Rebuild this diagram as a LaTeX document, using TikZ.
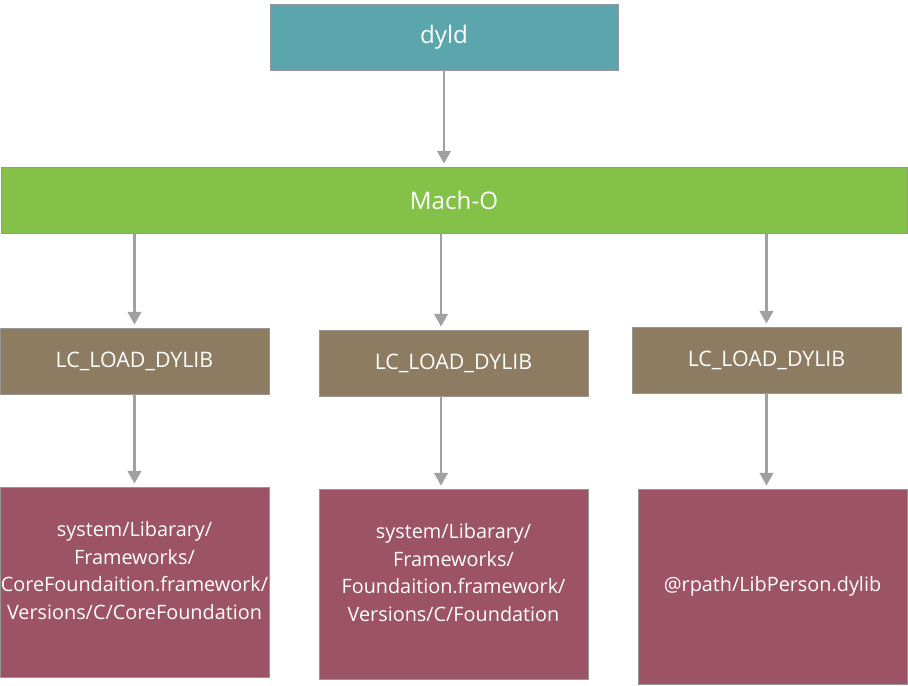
\documentclass[tikz,border=0pt]{standalone}
\usepackage{fontspec}
\setmainfont{Open Sans}
\usetikzlibrary{arrows.meta,positioning,calc}
\definecolor{dyldteal}{RGB}{91,166,172}
\definecolor{machogreen}{RGB}{131,193,72}
\definecolor{cmdbrown}{RGB}{141,124,97}
\definecolor{libred}{RGB}{155,83,101}
\definecolor{edgegray}{RGB}{150,150,150}
\definecolor{arrowgray}{RGB}{160,160,160}

\begin{document}
\begin{tikzpicture}[
    box/.style={rectangle, draw=edgegray, line width=0.6pt, text=white, inner sep=0pt, align=center},
    head/.style={box, minimum height=1.65cm, font=\fontsize{17.2}{20}\selectfont},
    cmd/.style={box, fill=cmdbrown, minimum width=6.725cm, minimum height=1.65cm, font=\fontsize{15.2}{18}\selectfont},
    lib/.style={box, fill=libred, minimum width=6.725cm, minimum height=4.75cm, font=\fontsize{14.1}{19.7}\selectfont},
    arrow/.style={-{Triangle[width=0.34cm,length=0.32cm]}, draw=arrowgray, line width=1.6pt, shorten >=0.075cm}
]
    \useasboundingbox (0,0) rectangle (22.7,-17.125);

    % Loader
    \node[head, fill=dyldteal, minimum width=8.7cm] (dyld) at (11.1,-0.925) {dyld};

    % Binary
    \node[head, fill=machogreen, minimum width=22.65cm] (macho) at (11.35,-5.0) {Mach-O};

    % Load commands
    \node[cmd] (cmdA) at (3.3625,-9.025) {LC\_LOAD\_DYLIB};
    \node[cmd] (cmdB) at (11.3375,-9.075) {LC\_LOAD\_DYLIB};
    \node[cmd] (cmdC) at (19.1625,-9.0) {LC\_LOAD\_DYLIB};

    % Library paths (four lines sit a bit above the middle)
    \node[lib, text depth=0.58cm] (libA) at (3.3625,-14.55) {system/Libarary/\\Frameworks/\\CoreFoundaition.framework/\\Versions/C/CoreFoundation};
    \node[lib, text depth=0.58cm] (libB) at (11.3375,-14.6) {system/Libarary/\\Frameworks/\\Foundaition.framework/\\Versions/C/Foundation};
    \node[lib, minimum height=4.875cm] (libC) at (19.3125,-14.6625) {@rpath/LibPerson.dylib};

    % Arrows
    \coordinate (midline) at (11.025,0);
    \draw[arrow] (dyld.south) -- (dyld.south |- macho.north);
    \draw[arrow] (macho.south -| cmdA.north) -- (cmdA.north);
    \draw[arrow] (macho.south -| midline) -- (cmdB.north -| midline);
    \draw[arrow] (macho.south -| cmdC.north) -- (cmdC.north);
    \draw[arrow] (cmdA.south) -- (libA.north);
    \draw[arrow] (cmdB.south -| midline) -- (libB.north -| midline);
    \draw[arrow] (cmdC.south) -- (cmdC.south |- libC.north);
\end{tikzpicture}
\end{document}
